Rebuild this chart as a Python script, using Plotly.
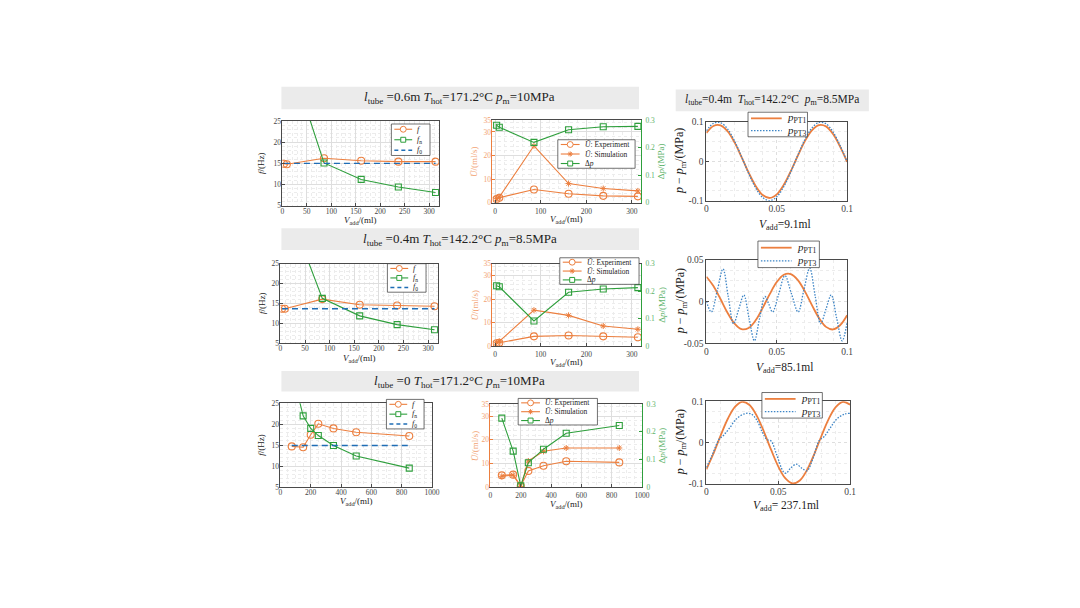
import plotly.graph_objects as go

W, H = 1080, 608
SERIF = "Liberation Serif"
ORANGE = "#EC7F3F"
ORANGE_T = "#F2A373"
GREEN = "#2E9F3C"
GREEN_T = "#5DB36A"
BLUE = "#1F6DB5"
LBLUE = "#3D85C6"
AXC = "#4a4a4a"

# l_tube = 0.6 m, T_hot = 171.2 C, p_m = 10 MPa
v_a = [3.2, 9.1, 85.1, 161.1, 237.1, 313.1]
f_a = [14.9, 14.8, 16.2, 15.6, 15.4, 15.4]
fn_a = [80.0, 42.0, 15.1, 11.2, 9.4, 8.1]
f0_a = 15.0
uexp_a = [1.5, 2.1, 5.6, 3.8, 2.9, 2.7]
usim_a = [1.7, 2.4, 24.1, 8.1, 6.0, 5.0]
dp_a = [0.281, 0.274, 0.219, 0.265, 0.276, 0.277]

# l_tube = 0.4 m, T_hot = 142.2 C, p_m = 8.5 MPa
v_b = [3.2, 9.1, 85.1, 161.1, 237.1, 313.1]
f_b = [13.7, 13.7, 16.1, 14.7, 14.5, 14.3]
fn_b = [85.0, 41.0, 16.3, 11.9, 9.7, 8.4]
f0_b = 13.7
uexp_b = [1.3, 1.5, 4.2, 4.6, 4.2, 3.8]
usim_b = [1.5, 2.1, 15.3, 13.1, 8.6, 7.2]
dp_b = [0.220, 0.216, 0.092, 0.196, 0.208, 0.213]

# l_tube = 0, T_hot = 171.2 C, p_m = 10 MPa
v_c = [75, 150, 200, 250, 350, 500, 850]
f_c = [14.7, 14.5, 17.5, 20.1, 19.0, 18.1, 17.2]
fn_c = [33.0, 22.0, 19.0, 17.3, 14.9, 12.4, 9.5]
f0_c = 14.9
uexp_c = [4.9, 5.2, 0.4, 6.8, 9.0, 10.9, 10.4]
usim_c = [4.5, 5.0, 0.2, 11.0, 15.1, 16.5, 16.5]
dp_c = [0.250, 0.130, 0.004, 0.088, 0.137, 0.195, 0.223]

# pressure waveforms (l_tube=0.4m), time in s, p - p_m in MPa
t_wave = [0.0, 0.005, 0.01, 0.015, 0.02, 0.025, 0.03, 0.035, 0.04, 0.045, 0.05,
          0.055, 0.06, 0.065, 0.07, 0.075, 0.08, 0.085, 0.09, 0.095, 0.1]
pt1_91 = [0.0721, 0.0900, 0.0916, 0.0768, 0.0482, 0.0109, -0.0284, -0.0625, -0.0854, -0.0930, -0.0838,
          -0.0595, -0.0246, 0.0148, 0.0516, 0.0790, 0.0922, 0.0889, 0.0695, 0.0376, -0.0010]
pt3_91 = [0.0775, 0.0968, 0.0985, 0.0826, 0.0518, 0.0117, -0.0305, -0.0672, -0.0919, -0.1000, -0.0901,
          -0.0640, -0.0264, 0.0160, 0.0554, 0.0849, 0.0992, 0.0956, 0.0747, 0.0405, -0.0011]
pt1_851 = [0.0297, 0.0186, 0.0030, -0.0134, -0.0265, -0.0331, -0.0316, -0.0224, -0.0076, 0.0089, 0.0233,
           0.0320, 0.0328, 0.0256, 0.0121, -0.0043, -0.0197, -0.0303, -0.0334, -0.0284, -0.0164]
t_pt3_851 = [0.0, 0.0035, 0.0077, 0.0118, 0.0155, 0.0193, 0.023, 0.0266, 0.0303, 0.0341, 0.0378,
             0.0416, 0.0443, 0.047, 0.0514, 0.0558, 0.0605, 0.0652, 0.0693, 0.0734, 0.0773,
             0.0812, 0.085, 0.0887, 0.0926, 0.0965, 0.1]
pt3_851 = [0.0, -0.0125, 0.013, 0.039, 0.006, -0.0266, -0.009, 0.0078, -0.020, -0.047, -0.020,
           0.006, -0.003, -0.0125, 0.009, 0.031, 0.009, -0.0125, 0.014, 0.040, 0.0067,
           -0.0266, -0.009, 0.0078, -0.020, -0.047, -0.025]
pt1_2371 = [-0.0644, -0.0256, 0.0183, 0.0585, 0.0873, 0.0989, 0.0911, 0.0654, 0.0269, -0.0170, -0.0574,
            -0.0866, -0.0988, -0.0916, -0.0664, -0.0281, 0.0156, 0.0564, 0.0860, 0.0987, 0.0921]
t_pt3_2371 = [0.0, 0.004, 0.0088, 0.012, 0.016, 0.021, 0.0265, 0.031, 0.035, 0.039, 0.042, 0.045, 0.049,
              0.0535, 0.0555, 0.0585, 0.0625, 0.0665, 0.070, 0.074, 0.0785, 0.082, 0.086, 0.091, 0.096, 0.1]
pt3_2371 = [-0.060, -0.030, 0.008, 0.018, 0.035, 0.058, 0.070, 0.070, 0.055, 0.025, 0.008, 0.004, -0.030,
            -0.070, -0.074, -0.062, -0.052, -0.062, -0.068, -0.040, 0.005, 0.015, 0.035, 0.058, 0.069, 0.071]


def px(x):
    return x / W


def py(y):
    return 1 - y / H


def ids(n):
    s = "" if n == 1 else str(n)
    return "x" + s, "y" + s, "xaxis" + s, "yaxis" + s


# panel boxes in pixels (left, top, right, bottom)
rects = {
    1: (283, 118, 441, 204), 2: (495, 117, 645, 201), 3: (711, 119, 853, 199),
    4: (281, 263, 440, 344), 5: (495, 263, 645, 347), 6: (711, 259, 853, 344),
    7: (281, 405, 434, 490), 8: (493, 406, 646, 490), 9: (711, 403, 856, 487),
}

fig = go.Figure()
layout = {}
shapes = []
annos = []


def base_axis(dom, rng, vals, texts, fsize, anchor, minor_dt, dotted=False, standoff=0):
    return dict(domain=dom, range=rng, tickvals=vals, ticktext=texts, anchor=anchor,
                showline=True, linecolor=AXC, linewidth=0.8, mirror=True,
                ticks="inside", ticklen=3, tickwidth=0.6, tickcolor=AXC,
                ticklabelstandoff=standoff,
                showgrid=True, gridcolor="#dedede", gridwidth=0.6,
                griddash="dot" if dotted else "solid",
                zeroline=False, tickfont=dict(family=SERIF, size=fsize, color="#444"),
                minor=dict(showgrid=True, dtick=minor_dt, gridcolor="#ececec",
                           griddash="dot", gridwidth=0.6))


def text(x, y, s, size, color="#222", angle=0, xa="center"):
    annos.append(dict(x=px(x), y=py(y), xref="paper", yref="paper", text=s, showarrow=False,
                      textangle=angle, xanchor=xa, yanchor="middle",
                      font=dict(family=SERIF, size=size, color=color)))


def legend_box(x0, y0, x1, y1, items, split, fsize):
    shapes.append(dict(type="rect", xref="paper", yref="paper", x0=px(x0), x1=px(x1),
                       y0=py(y0), y1=py(y1), fillcolor="white",
                       line=dict(color="#333", width=0.7), layer="above"))
    h = (y1 - y0) / len(items)
    for i, (label, color, dash, sym, lw) in enumerate(items):
        yc = y0 + h * (i + 0.5)
        lx0, lx1 = x0 + 3, x0 + split
        shapes.append(dict(type="line", xref="paper", yref="paper", x0=px(lx0), x1=px(lx1),
                           y0=py(yc), y1=py(yc), line=dict(color=color, width=lw, dash=dash)))
        cx = (lx0 + lx1) / 2
        if sym == "circle":
            shapes.append(dict(type="circle", xref="paper", yref="paper", x0=px(cx - 3),
                               x1=px(cx + 3), y0=py(yc - 3), y1=py(yc + 3),
                               fillcolor="white", line=dict(color=color, width=1)))
        elif sym == "square":
            shapes.append(dict(type="rect", xref="paper", yref="paper", x0=px(cx - 2.5),
                               x1=px(cx + 2.5), y0=py(yc - 2.5), y1=py(yc + 2.5),
                               fillcolor="white", line=dict(color=color, width=1)))
        elif sym == "asterisk":
            r = 2.6
            d = r * 0.7
            path = (f"M {px(cx - r)},{py(yc)} L {px(cx + r)},{py(yc)} "
                    f"M {px(cx)},{py(yc - r)} L {px(cx)},{py(yc + r)} "
                    f"M {px(cx - d)},{py(yc - d)} L {px(cx + d)},{py(yc + d)} "
                    f"M {px(cx - d)},{py(yc + d)} L {px(cx + d)},{py(yc - d)}")
            shapes.append(dict(type="path", xref="paper", yref="paper", path=path,
                               line=dict(color=color, width=1)))
        text(lx1 + 3, yc, label, fsize, xa="left")


def freq_panel(n, v, f, fn, f0, xr, xt, xminor):
    xa, ya, xk, yk = ids(n)
    l, t, r, b = rects[n]
    fig.add_trace(go.Scatter(x=v, y=f, xaxis=xa, yaxis=ya, mode="lines+markers",
                             line=dict(color=ORANGE, width=1.1),
                             marker=dict(symbol="circle-open", size=7, color=ORANGE,
                                         line=dict(width=1.1))))
    fig.add_trace(go.Scatter(x=v, y=fn, xaxis=xa, yaxis=ya, mode="lines+markers",
                             line=dict(color=GREEN, width=1.1),
                             marker=dict(symbol="square-open", size=6, color=GREEN,
                                         line=dict(width=1.1))))
    fig.add_trace(go.Scatter(x=[v[0], v[-1]], y=[f0, f0], xaxis=xa, yaxis=ya, mode="lines",
                             line=dict(color=BLUE, width=1.4, dash="6px,4px")))
    layout[xk] = base_axis([px(l), px(r)], xr, xt, [str(x) for x in xt], 7.5, ya, xminor,
                           standoff=-2)
    layout[yk] = base_axis([py(b), py(t)], [5, 25], [5, 10, 15, 20, 25],
                           ["5", "10", "15", "20", "25"], 7.5, xa, 1, standoff=-1)
    text(262, (t + b) / 2, "<i>f</i>/(Hz)", 9, angle=-90)
    text((l + r) / 2, b + 15, "<i>V</i><sub>add</sub>/(ml)", 9)


def flow_panel(n, yr_id, v, uexp, usim, dp, xr, xt, xminor, xlab_dy):
    xa, ya, xk, yk = ids(n)
    l, t, r, b = rects[n]
    yr = "y" + str(yr_id)
    fig.add_trace(go.Scatter(x=v, y=uexp, xaxis=xa, yaxis=ya, mode="lines+markers",
                             line=dict(color=ORANGE, width=1.1),
                             marker=dict(symbol="circle-open", size=7, color=ORANGE,
                                         line=dict(width=1.1))))
    fig.add_trace(go.Scatter(x=v, y=usim, xaxis=xa, yaxis=ya, mode="lines+markers",
                             line=dict(color=ORANGE, width=1.1),
                             marker=dict(symbol="asterisk-open", size=5, color=ORANGE,
                                         line=dict(width=1, color=ORANGE))))
    fig.add_trace(go.Scatter(x=v, y=dp, xaxis=xa, yaxis=yr, mode="lines+markers",
                             line=dict(color=GREEN, width=1.1),
                             marker=dict(symbol="square-open", size=6, color=GREEN,
                                         line=dict(width=1.1))))
    layout[xk] = base_axis([px(l), px(r)], xr, xt, [str(x) for x in xt], 7.5, ya, xminor,
                           standoff=1)
    ly = base_axis([py(b), py(t)], [0, 35], [0, 10, 20, 30, 35],
                   ["0", "10", "20", "30", "35"], 7.5, xa, 2, standoff=-1)
    ly.update(linecolor=ORANGE, mirror=False, tickcolor=ORANGE,
              tickfont=dict(family=SERIF, size=7.5, color=ORANGE_T))
    layout[yk] = ly
    layout["yaxis" + str(yr_id)] = dict(
        domain=[py(b), py(t)], range=[0, 0.3], tickvals=[0, 0.1, 0.2, 0.3],
        ticktext=["0", "0.1", "0.2", "0.3"], overlaying=ya, side="right", anchor=xa,
        showline=True, linecolor=GREEN, linewidth=0.8, ticks="inside", ticklen=3,
        tickwidth=0.6, tickcolor=GREEN, showgrid=False, zeroline=False,
        ticklabelstandoff=2,
        tickfont=dict(family=SERIF, size=7.5, color=GREEN_T))
    text(477, (t + b) / 2, "<i>Ū</i>/(ml/s)", 9, color=ORANGE_T, angle=-90)
    text(666, (t + b) / 2, "Δ<i>p</i>/(MPa)", 9, color=GREEN_T, angle=-90)
    text((l + r) / 2, b + xlab_dy, "<i>V</i><sub>add</sub>/(ml)", 9)


def wave_panel(n, t1, p1, t3, p3, ylim, yt, ytxt, yminor, xlabel, xlab_y):
    xa, ya, xk, yk = ids(n)
    l, t, r, b = rects[n]
    fig.add_trace(go.Scatter(x=t1, y=p1, xaxis=xa, yaxis=ya, mode="lines",
                             line=dict(color=ORANGE, width=1.8, shape="spline")))
    fig.add_trace(go.Scatter(x=t3, y=p3, xaxis=xa, yaxis=ya, mode="lines",
                             line=dict(color=LBLUE, width=1.3, dash="1.5px,1.5px",
                                       shape="spline")))
    layout[xk] = base_axis([px(l), px(r)], [0, 0.1], [0, 0.05, 0.1], ["0", "0.05", "0.1"],
                           9.5, ya, 0.01, dotted=True, standoff=-1)
    layout[yk] = base_axis([py(b), py(t)], ylim, yt, ytxt, 9.5, xa, yminor, dotted=True)
    text(685, (t + b) / 2, "<i>p</i> − <i>p</i><sub>m</sub>/(MPa)", 12, angle=-90)
    text((l + r) / 2 + 8, xlab_y, xlabel, 11.5)


freq_panel(1, v_a, f_a, fn_a, f0_a, [0, 320], [0, 50, 100, 150, 200, 250, 300], 10)
flow_panel(2, 10, v_a, uexp_a, usim_a, dp_a, [-6, 320], [0, 100, 200, 300], 20, 17)
wave_panel(3, t_wave, pt1_91, t_wave, pt3_91, [-0.1, 0.1], [-0.1, 0, 0.1], ["-0.1", "0", "0.1"],
           0.025, "<i>V</i><sub>add</sub>=9.1ml", 224)
freq_panel(4, v_b, f_b, fn_b, f0_b, [0, 320], [0, 50, 100, 150, 200, 250, 300], 10)
flow_panel(5, 11, v_b, uexp_b, usim_b, dp_b, [-6, 320], [0, 100, 200, 300], 20, 16)
wave_panel(6, t_wave, pt1_851, t_pt3_851, pt3_851, [-0.05, 0.05], [-0.05, 0, 0.05],
           ["-0.05", "0", "0.05"], 0.0125, "<i>V</i><sub>add</sub>=85.1ml", 369)
freq_panel(7, v_c, f_c, fn_c, f0_c, [0, 1000], [0, 200, 400, 600, 800, 1000], 50)
flow_panel(8, 12, v_c, uexp_c, usim_c, dp_c, [0, 1000], [0, 200, 400, 600, 800, 1000], 50, 18)
wave_panel(9, t_wave, pt1_2371, t_pt3_2371, pt3_2371, [-0.1, 0.1], [-0.1, 0, 0.1],
           ["-0.1", "0", "0.1"], 0.025, "<i>V</i><sub>add</sub>= 237.1ml", 509)

# banners
for (y0, y1, s) in [
    (83, 106, "<i>l</i><sub>tube</sub> =0.6m <i>T</i><sub>hot</sub>=171.2°C <i>p</i><sub>m</sub>=10MPa"),
    (227, 249, "<i>l</i><sub>tube</sub> =0.4m <i>T</i><sub>hot</sub>=142.2°C <i>p</i><sub>m</sub>=8.5MPa"),
    (372, 393, "<i>l</i><sub>tube</sub> =0 <i>T</i><sub>hot</sub>=171.2°C <i>p</i><sub>m</sub>=10MPa"),
]:
    shapes.append(dict(type="rect", xref="paper", yref="paper", x0=px(282), x1=px(643),
                       y0=py(y1), y1=py(y0), fillcolor="#ebebeb", line=dict(width=0),
                       layer="below"))
    text(462, (y0 + y1) / 2, s, 13)
shapes.append(dict(type="rect", xref="paper", yref="paper", x0=px(680), x1=px(875),
                   y0=py(108), y1=py(86), fillcolor="#ebebeb", line=dict(width=0),
                   layer="below"))
text(777, 97, "<i>l</i><sub>tube</sub>=0.4m&nbsp;&nbsp;<i>T</i><sub>hot</sub>=142.2°C&nbsp;&nbsp;"
              "<i>p</i><sub>m</sub>=8.5MPa", 11.5)

# legends
f_items = [("<i>f</i>", ORANGE, "solid", "circle", 1.1),
           ("<i>f</i><sub>n</sub>", GREEN, "solid", "square", 1.1),
           ("<i>f</i><sub>0</sub>", BLUE, "4px,3px", None, 1.4)]
u_items = [("<i>Ū</i>: Experiment", ORANGE, "solid", "circle", 1.1),
           ("<i>Ū</i>: Simulation", ORANGE, "solid", "asterisk", 1.1),
           ("Δ<i>p</i>", GREEN, "solid", "square", 1.1)]
p_items = [("<i>p</i><sub>PT1</sub>", ORANGE, "solid", None, 1.8),
           ("<i>p</i><sub>PT3</sub>", LBLUE, "1.5px,1.5px", None, 1.3)]
legend_box(393, 121, 432, 153, f_items, 21, 8)
legend_box(389, 263, 428, 292, f_items, 21, 8)
legend_box(388, 401, 426, 431, f_items, 21, 8)
legend_box(561, 137, 639, 166, u_items, 22, 7.5)
legend_box(563, 257, 643, 284, u_items, 22, 7.5)
legend_box(521, 400, 601, 427, u_items, 22, 7.5)
legend_box(753, 109, 813, 134, p_items, 34, 11)
legend_box(763, 240, 825, 267, p_items, 34, 11)
legend_box(767, 394, 828, 420, p_items, 34, 11)

fig.update_layout(**layout)
fig.update_layout(width=W, height=H, margin=dict(l=0, r=0, t=0, b=0),
                  paper_bgcolor="white", plot_bgcolor="white", showlegend=False,
                  shapes=shapes, annotations=annos)

fig.write_html("out.html", config={"displayModeBar": False},
               post_script="document.body.style.margin='0';")
